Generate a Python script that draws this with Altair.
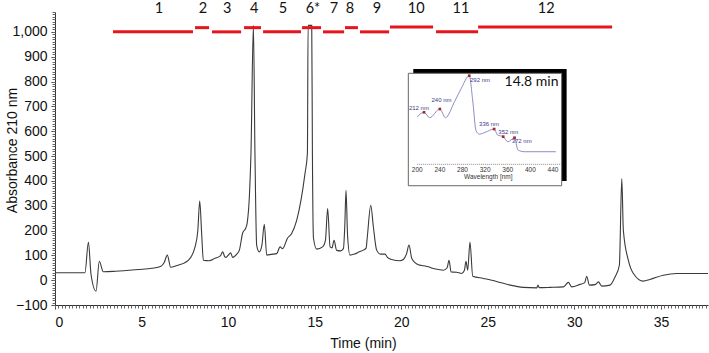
import altair as alt
import pandas as pd

# ---------------- main chromatogram ----------------
time_min = [0, 1.73, 1.93, 2.08, 2.37, 2.56, 2.79, 3.5, 4.81, 5.6, 6.12, 6.3, 6.49, 6.68, 7.0, 7.7,
            8.09, 8.25, 8.36, 8.47, 8.57, 8.9, 9.24, 9.55, 9.69, 9.8, 9.88, 10.0, 10.15, 10.26, 10.5,
            10.65, 10.84, 11.02, 11.1, 11.23, 11.32, 11.46, 11.55, 11.65, 11.8, 11.95, 12.09, 12.23,
            12.5, 12.81, 13.0, 13.15, 13.42, 13.67, 13.96, 14.21, 14.44, 14.58, 14.62, 14.83, 14.87,
            14.93, 15.12, 15.46, 15.62, 15.75, 15.89, 16.0, 16.12, 16.27, 16.5, 16.66, 16.74, 16.81,
            16.9, 17.04, 17.3, 17.58, 17.81, 17.97, 18.04, 18.24, 18.39, 18.58, 18.8, 19.06, 19.2,
            19.45, 19.93, 20.12, 20.3, 20.45, 20.61, 20.99, 21.3, 21.57, 21.8, 22.15, 22.43, 22.65,
            22.76, 22.88, 23.2, 23.49, 23.65, 23.74, 23.84, 23.97, 24.13, 24.74, 25.5, 26.29, 27.05,
            27.83, 27.9, 27.97, 28.6, 29.37, 29.66, 29.85, 30.33, 30.6, 30.71, 30.87, 31.2, 31.39,
            31.58, 32.06, 32.35, 32.6, 32.74, 32.83, 33.12, 33.41, 33.99, 34.37, 35.14, 35.92, 37.72]
absorbance = [30, 30, 154, 24, -44, 76, 34, 36, 43, 48, 56, 70, 101, 52, 58, 80,
              134, 200, 319, 190, 80, 78, 88, 98, 114, 95, 92, 100, 110, 92, 105,
              121, 190, 210, 230, 340, 511, 1026, 511, 140, 114, 140, 225, 101,
              104, 107, 134, 127, 168, 188, 241, 322, 429, 510, 1026, 1026, 500,
              170, 125, 134, 160, 288, 134, 130, 161, 120, 118, 127, 220, 362,
              180, 101, 105, 114, 121, 129, 174, 302, 215, 121, 105, 105, 92,
              83, 78, 83, 105, 141, 87, 62, 58, 54, 48, 43, 40, 50,
              80, 33, 32, 27, 40, 76, 40, 154, 16, 7, -5, -20, -29,
              -31, -20, -30, -29, -27, -9, -27, -17, -10, 16, -20, -18, -7,
              -24, -20, 13, 60, 409, 201, 80, 27, -4, 3, 20, 27, 27]

# fraction bars
frac_names = ["1", "2", "3", "4", "5", "6*", "7", "8", "9", "10", "11", "12"]
frac_start = [3.35, 8.09, 9.07, 10.92, 12.02, 14.27, 15.48, 16.75, 17.62, 19.35, 22.01, 24.44]
frac_end = [7.97, 8.90, 10.75, 11.90, 14.21, 15.37, 16.70, 17.50, 19.30, 21.84, 24.44, 32.18]
frac_level = [1000, 1017, 1000, 1017, 1000, 1017, 1000, 1017, 1000, 1020, 1000, 1020]
frac_label_x = [6.01, 8.55, 9.94, 11.5, 13.17, 14.9, 16.12, 17.04, 18.6, 20.86, 23.45, 28.37]
frac_label_y = [1074] * 12

x_ticks = [0, 5, 10, 15, 20, 25, 30, 35]
y_ticks = [-100, 0, 100, 200, 300, 400, 500, 600, 700, 800, 900, 1000]
x_minor = [round(i * 0.2, 2) for i in range(0, 189)]
y_minor = [v for v in range(-100, 1081, 10)]

# ---------------- inset UV spectrum ----------------
spec_nm = [200, 212, 222, 240, 250, 266, 278, 292, 298, 304, 310, 320, 336, 342, 352, 360, 372, 378, 390, 445]
spec_abs = [0.537, 0.587, 0.526, 0.624, 0.526, 0.707, 0.858, 1.0, 0.726, 0.38, 0.34, 0.36, 0.398,
            0.331, 0.312, 0.255, 0.300, 0.161, 0.142, 0.142]
peak_nm = [212, 240, 292, 336, 352, 372]
peak_abs = [0.587, 0.624, 1.0, 0.398, 0.312, 0.300]
peak_text = ["212 nm", "240 nm", "292 nm", "336 nm", "352 nm", "372 nm"]
peak_text_nm = [203, 243, 311, 327, 361, 384.6]
peak_text_abs = [0.639, 0.726, 0.951, 0.455, 0.368, 0.263]
inset_ticks = [200, 240, 280, 320, 360, 400, 440]

main_df = pd.DataFrame({"t": time_min, "a": absorbance})
frac_df = pd.DataFrame({"s": frac_start, "e": frac_end, "lv": frac_level})
flab_df = pd.DataFrame({"x": frac_label_x, "y": frac_label_y, "txt": frac_names})
spec_df = pd.DataFrame({"nm": spec_nm, "v": spec_abs})
peak_df = pd.DataFrame({"nm": peak_nm, "v": peak_abs})
ptxt_df = pd.DataFrame({"nm": peak_text_nm, "v": peak_text_abs, "txt": peak_text})
itick_df = pd.DataFrame({"nm": inset_ticks, "v": [-0.064] * len(inset_ticks), "txt": [str(t) for t in inset_ticks]})

FONT = "Liberation Sans"
XS = alt.Scale(domain=[0, 37.72], nice=False, zero=False)
YS = alt.Scale(domain=[-100, 1080], nice=False, zero=False)
IXS = alt.Scale(domain=[200, 440], range=[362.2, 498.0], nice=False, zero=False)
IYS = alt.Scale(domain=[0, 1], range=[152.3, 63.7], nice=False, zero=False)

x_axis = alt.Axis(values=x_ticks, title="Time (min)", labelFont=FONT, labelFontSize=14, labelColor="#111",
                  labelExpr="format(datum.value, 'd')",
                  titleFont=FONT, titleFontSize=14, titleFontWeight="normal", titleColor="#111",
                  titleX=308, titleY=38, titleBaseline="middle", titleAlign="center",
                  tickSize=4, tickColor="#333", domainColor="#333", labelPadding=6, grid=False, orient="bottom")
y_axis = alt.Axis(values=y_ticks, title="Absorbance 210 nm", labelFont=FONT, labelFontSize=14,
                  labelExpr="format(datum.value, ',')",
                  labelColor="#111", titleFont=FONT, titleFontSize=14, titleFontWeight="normal",
                  titleColor="#111", titleX=-43, titleY=138, titleAlign="center", titleBaseline="middle",
                  tickSize=4, tickColor="#333", domainColor="#333", labelPadding=4, grid=False, orient="left")

line = alt.Chart(main_df).mark_line(color="#3a3a3a", strokeWidth=1.1, interpolate="monotone").encode(
    x=alt.X("t:Q", scale=XS, axis=x_axis),
    y=alt.Y("a:Q", scale=YS, axis=y_axis),
)

minor = alt.Chart(main_df).mark_line(opacity=0).encode(
    x=alt.X("t:Q", scale=XS, axis=alt.Axis(values=x_minor, labels=False, domain=False, tickSize=3,
                                            tickColor="#666", title=None, grid=False, orient="bottom")),
    y=alt.Y("a:Q", scale=YS, axis=alt.Axis(values=y_minor, labels=False, domain=False, tickSize=3,
                                            tickColor="#666", title=None, grid=False, orient="left")),
)

bars = alt.Chart(frac_df).mark_rule(color="#e8141c", strokeWidth=3).encode(
    x=alt.X("s:Q", scale=XS, axis=None),
    x2="e:Q",
    y=alt.Y("lv:Q", scale=YS, axis=None),
)

flabels = alt.Chart(flab_df).mark_text(font="Lato", fontSize=14.5, color="#111", baseline="alphabetic",
                                       align="center").encode(
    x=alt.X("x:Q", scale=XS, axis=None),
    y=alt.Y("y:Q", scale=YS, axis=None),
    text="txt:N",
)

# inset frame (shadow + white box)
shadow_df = pd.DataFrame({"x1": [193.1], "x2": [464.1], "y1": [-0.188], "y2": [1.076]})
box_df = pd.DataFrame({"x1": [184.3], "x2": [455.3], "y1": [-0.242], "y2": [1.027]})

shadow = alt.Chart(shadow_df).mark_rect(color="black").encode(
    x=alt.X("x1:Q", scale=IXS, axis=None), x2="x2:Q",
    y=alt.Y("y1:Q", scale=IYS, axis=None), y2="y2:Q",
)
box = alt.Chart(box_df).mark_rect(fill="white", stroke="#666", strokeWidth=1).encode(
    x=alt.X("x1:Q", scale=IXS, axis=None), x2="x2:Q",
    y=alt.Y("y1:Q", scale=IYS, axis=None), y2="y2:Q",
)
iaxis_df = pd.DataFrame({"x1": [200], "x2": [453], "y": [0]})
iaxis = alt.Chart(iaxis_df).mark_rule(color="#888", strokeWidth=1, strokeDash=[1, 1]).encode(
    x=alt.X("x1:Q", scale=IXS, axis=None), x2="x2:Q",
    y=alt.Y("y:Q", scale=IYS, axis=None),
)
iticks = alt.Chart(itick_df).mark_text(font=FONT, fontSize=6.5, color="#333", baseline="middle").encode(
    x=alt.X("nm:Q", scale=IXS, axis=None),
    y=alt.Y("v:Q", scale=IYS, axis=None),
    text="txt:N",
)
ititle_df = pd.DataFrame({"nm": [325.6], "v": [-0.14], "txt": ["Wavelength [nm]"]})
ititle = alt.Chart(ititle_df).mark_text(font=FONT, fontSize=6.5, color="#333", baseline="middle").encode(
    x=alt.X("nm:Q", scale=IXS, axis=None),
    y=alt.Y("v:Q", scale=IYS, axis=None),
    text="txt:N",
)
spec = alt.Chart(spec_df).mark_line(color="#8c8cc8", strokeWidth=1, interpolate="monotone").encode(
    x=alt.X("nm:Q", scale=IXS, axis=None),
    y=alt.Y("v:Q", scale=IYS, axis=None),
)
pmarks = alt.Chart(peak_df).mark_square(color="#a02828", size=7, opacity=1).encode(
    x=alt.X("nm:Q", scale=IXS, axis=None),
    y=alt.Y("v:Q", scale=IYS, axis=None),
)
ptexts = alt.Chart(ptxt_df).mark_text(font=FONT, fontSize=6, color="#3a3a8a", baseline="middle").encode(
    x=alt.X("nm:Q", scale=IXS, axis=None),
    y=alt.Y("v:Q", scale=IYS, axis=None),
    text="txt:N",
)
itime_df = pd.DataFrame({"nm": [402], "v": [0.932], "txt": ["14.8 min"]})
itime = alt.Chart(itime_df).mark_text(font="Lato", fontSize=14, color="#111", baseline="middle").encode(
    x=alt.X("nm:Q", scale=IXS, axis=None),
    y=alt.Y("v:Q", scale=IYS, axis=None),
    text="txt:N",
)

chart = alt.layer(
    line, minor, bars, flabels, shadow, box, iaxis, iticks, ititle, spec, pmarks, ptexts, itime
).resolve_scale(x="independent", y="independent").resolve_axis(x="independent", y="independent").properties(
    width=653, height=293,
    autosize=alt.AutoSizeParams(type="none"),
    padding={"left": 55, "top": 12, "right": 1, "bottom": 48},
    background="white",
).configure_view(stroke=None)

chart.save("out.html", embed_options={"renderer": "svg", "actions": False})
